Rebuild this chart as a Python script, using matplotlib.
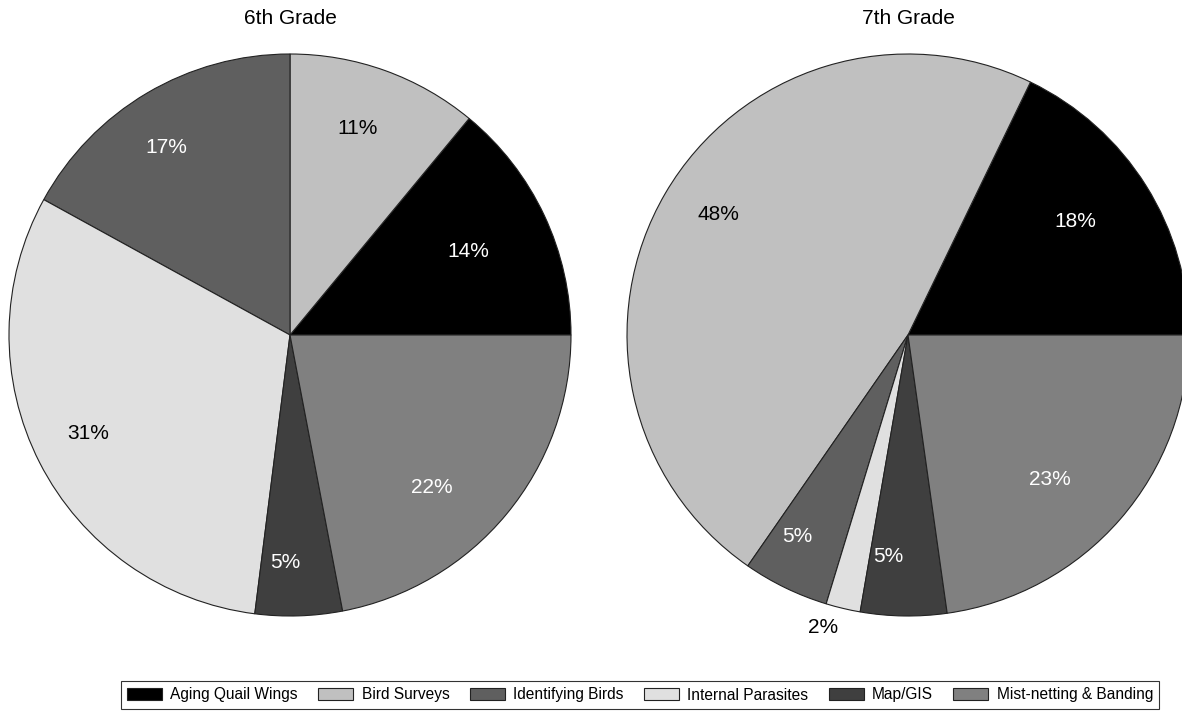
import numpy as np
import matplotlib.pyplot as plt
from matplotlib.patches import Patch

plt.rcParams["font.family"] = ["Liberation Sans", "DejaVu Sans"]

# Activity categories (legend order = slice order, counterclockwise from 3 o'clock)
activities = ["Aging Quail Wings", "Bird Surveys", "Identifying Birds",
              "Internal Parasites", "Map/GIS", "Mist-netting & Banding"]
colors = ["#000000", "#c0c0c0", "#5f5f5f", "#e0e0e0", "#3f3f3f", "#808080"]

grade6 = [14, 11, 17, 31, 5, 22]
grade7 = [18, 48, 5, 2, 5, 23]

# label colour, radial distance and angle nudge (deg) for each slice label
grade6_txt = ["white", "black", "white", "black", "white", "white"]
grade6_dist = [0.70, 0.775, 0.80, 0.80, 0.81, 0.74]
grade6_nudge = [0, 1.6, 2.8, -1, -3, -7.4]
grade7_txt = ["white", "black", "white", "black", "white", "white"]
grade7_dist = [0.72, 0.80, 0.82, 1.085, 0.79, 0.72]
grade7_nudge = [2, -2, -3, -2.8, -4.3, -4.6]

W, H = 1182, 716
fig = plt.figure(figsize=(W / 100, H / 100), dpi=100)
R = 281


def draw_pie(cx, cy, values, txt_colors, dists, nudges, title):
    ax = fig.add_axes([(cx - R) / W, (H - cy - R) / H, 2 * R / W, 2 * R / H])
    wedges, _ = ax.pie(values, colors=colors, startangle=0, counterclock=True,
                       radius=1, wedgeprops=dict(edgecolor="#222222", linewidth=0.8))
    for w, val, tc, d, nd in zip(wedges, values, txt_colors, dists, nudges):
        ang = np.deg2rad((w.theta1 + w.theta2) / 2 + nd)
        ax.text(d * np.cos(ang), d * np.sin(ang), f"{val}%", color=tc,
                fontsize=15, ha="center", va="center")
    ax.set_xlim(-1, 1)
    ax.set_ylim(-1, 1)
    ax.set_aspect("equal")
    ax.axis("off")
    fig.text(cx / W, 1 - 19 / H, title, ha="center", va="center", fontsize=15)


draw_pie(290, 335, grade6, grade6_txt, grade6_dist, grade6_nudge, "6th Grade")
draw_pie(908, 335, grade7, grade7_txt, grade7_dist, grade7_nudge, "7th Grade")

handles = [Patch(facecolor=c, edgecolor="#222222", linewidth=0.8) for c in colors]
leg = fig.legend(handles, activities, ncol=6, loc="center",
                 bbox_to_anchor=(640 / W, 1 - 695 / H), fontsize=11.2,
                 frameon=True, fancybox=False, edgecolor="black",
                 handlelength=2.25, handleheight=0.75, handletextpad=0.55,
                 columnspacing=1.3, borderpad=0.4)
leg.get_frame().set_linewidth(0.8)

fig.savefig("out.png", dpi=100)
